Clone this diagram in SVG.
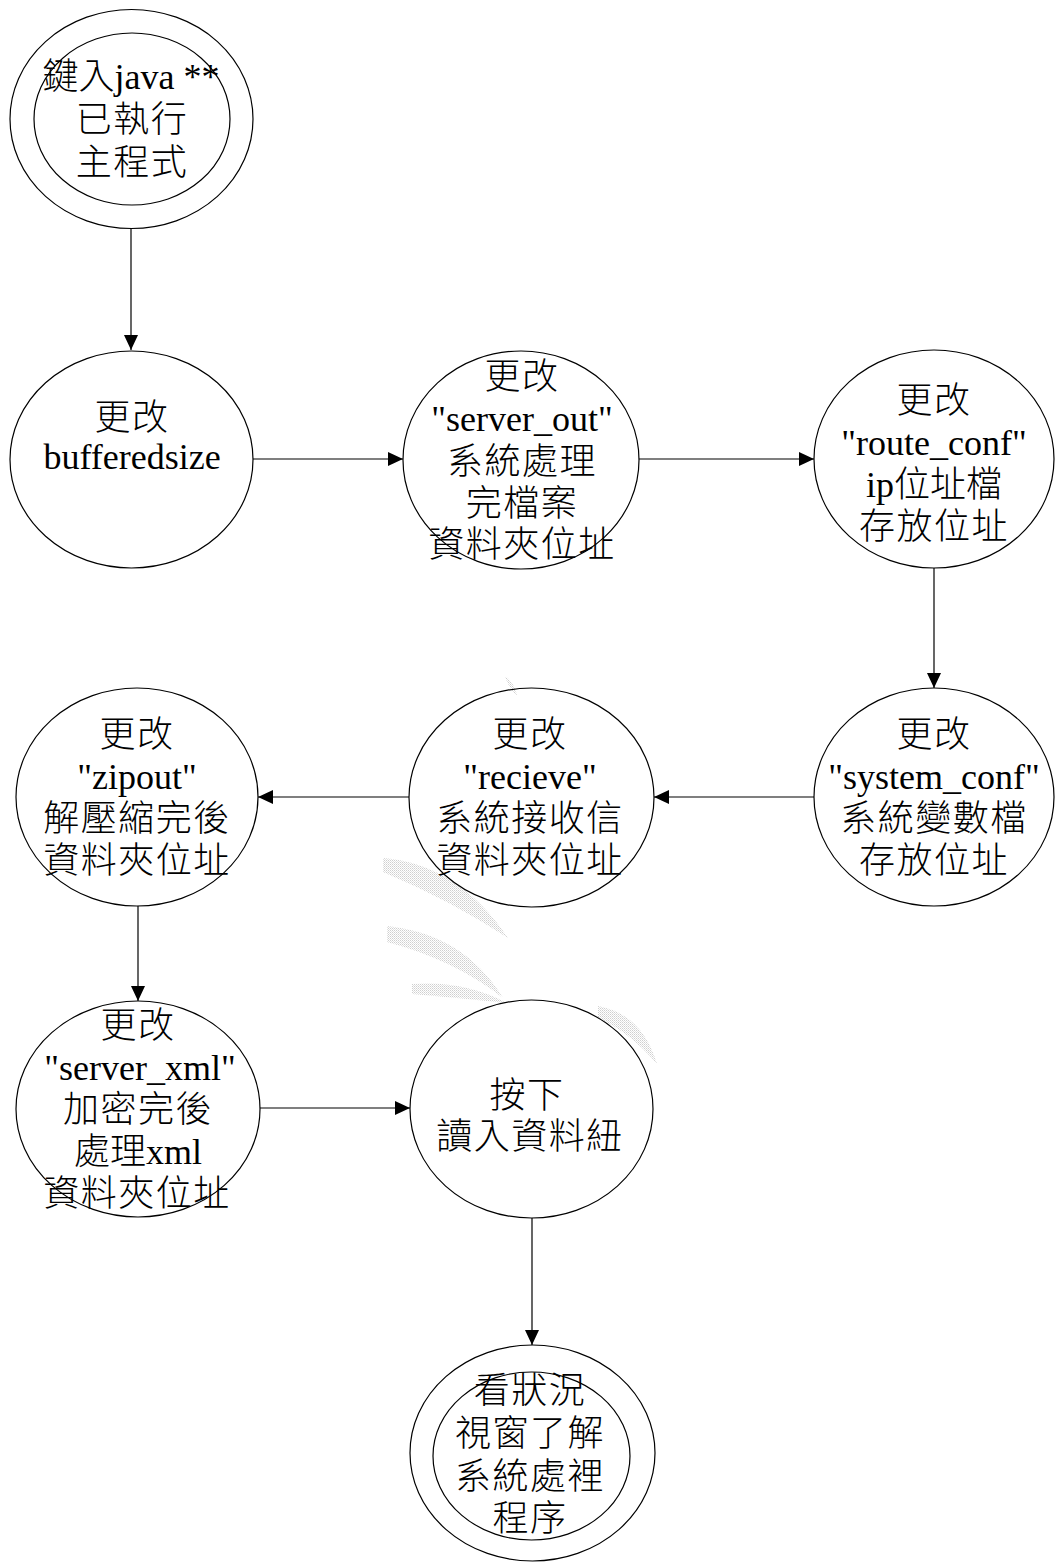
<svg xmlns="http://www.w3.org/2000/svg" width="1055" height="1562" viewBox="0 0 1055 1562">
<style>
  .bg { fill: #ffffff; }
  .node ellipse { fill: none; stroke: #000; stroke-width: 1.2; }
  .node text { font-family: "Liberation Serif", "Noto Sans CJK TC", serif; font-size: 36px; font-weight: 300; fill: #000; text-anchor: middle; }
  .node text.cjk { letter-spacing: 1.5px; }
  .edge { stroke: #000; stroke-width: 1.2; fill: none; marker-end: url(#arrow); }
  .wm { fill: url(#dots); }
</style>
<defs>
  <marker id="arrow" markerUnits="userSpaceOnUse" markerWidth="16" markerHeight="16" refX="15" refY="7" orient="auto">
    <path d="M0,0 L15,7 L0,14 Z" fill="#000"/>
  </marker>
  <pattern id="dots" patternUnits="userSpaceOnUse" width="2" height="2">
    <rect x="0" y="0" width="1" height="1" fill="#cfcfcf"/>
    <rect x="1" y="1" width="1" height="1" fill="#e2e2e2"/>
  </pattern>
</defs>
<rect class="bg" x="0" y="0" width="1055" height="1562"/>

<g id="watermark">
  <path class="wm" d="M383,858 Q458,864 508,938 Q450,900 383,872 Z"/>
  <path class="wm" d="M387,926 Q464,934 503,998 Q455,960 387,942 Z"/>
  <path class="wm" d="M412,984 Q464,980 507,1003 Q460,998 412,994 Z"/>
  <path class="wm" d="M598,1006 Q642,1014 657,1064 Q630,1032 598,1018 Z"/>
  <path class="wm" d="M505,676 Q515,683 517,696 Q509,689 505,676 Z"/>
</g>

<g id="connectors">
  <line class="edge" x1="131" y1="229" x2="131" y2="350"/>
  <line class="edge" x1="253" y1="459" x2="403" y2="459"/>
  <line class="edge" x1="639" y1="459" x2="814" y2="459"/>
  <line class="edge" x1="934" y1="568" x2="934" y2="688"/>
  <line class="edge" x1="814" y1="797" x2="654" y2="797"/>
  <line class="edge" x1="409" y1="797" x2="258" y2="797"/>
  <line class="edge" x1="138" y1="906" x2="138" y2="1001"/>
  <line class="edge" x1="260" y1="1108" x2="410" y2="1108"/>
  <line class="edge" x1="532" y1="1218" x2="532" y2="1345"/>
</g>

<g id="n1" class="node">
  <ellipse cx="131.5" cy="119" rx="121.5" ry="109.5"/>
  <ellipse cx="132" cy="119" rx="98" ry="86"/>
  <text x="131" y="89">鍵入java **</text>
  <text class="cjk" x="132" y="132">已執行</text>
  <text class="cjk" x="132" y="175">主程式</text>
</g>

<g id="n2" class="node">
  <ellipse cx="131.5" cy="459.5" rx="121.5" ry="108.5"/>
  <text class="cjk" x="132" y="430">更改</text>
  <text x="132" y="469">bufferedsize</text>
</g>

<g id="n3" class="node">
  <ellipse cx="521" cy="460" rx="118" ry="109"/>
  <text class="cjk" x="522" y="389">更改</text>
  <text x="522" y="431">"server_out"</text>
  <text class="cjk" x="522" y="474">系統處理</text>
  <text class="cjk" x="522" y="516">完檔案</text>
  <text class="cjk" x="522" y="557">資料夾位址</text>
</g>

<g id="n4" class="node">
  <ellipse cx="934" cy="459" rx="120" ry="109"/>
  <text class="cjk" x="934" y="413">更改</text>
  <text x="934" y="455">"route_conf"</text>
  <text x="934" y="497">ip位址檔</text>
  <text class="cjk" x="934" y="539">存放位址</text>
</g>

<g id="n5" class="node">
  <ellipse cx="934" cy="797" rx="120" ry="109"/>
  <text class="cjk" x="934" y="747">更改</text>
  <text x="934" y="789">"system_conf"</text>
  <text class="cjk" x="934" y="831">系統變數檔</text>
  <text class="cjk" x="934" y="873">存放位址</text>
</g>

<g id="n6" class="node">
  <ellipse cx="531.5" cy="797.5" rx="122.5" ry="109.5"/>
  <text class="cjk" x="530" y="747">更改</text>
  <text x="530" y="789">"recieve"</text>
  <text class="cjk" x="530" y="831">系統接收信</text>
  <text class="cjk" x="530" y="873">資料夾位址</text>
</g>

<g id="n7" class="node">
  <ellipse cx="137" cy="797" rx="121" ry="109"/>
  <text class="cjk" x="137" y="747">更改</text>
  <text x="137" y="789">"zipout"</text>
  <text class="cjk" x="137" y="831">解壓縮完後</text>
  <text class="cjk" x="137" y="873">資料夾位址</text>
</g>

<g id="n8" class="node">
  <ellipse cx="138" cy="1109" rx="122" ry="108"/>
  <text class="cjk" x="138" y="1038">更改</text>
  <text x="140" y="1080">"server_xml"</text>
  <text class="cjk" x="138" y="1122">加密完後</text>
  <text x="138" y="1164">處理xml</text>
  <text class="cjk" x="137" y="1206">資料夾位址</text>
</g>

<g id="n9" class="node">
  <ellipse cx="531.5" cy="1109" rx="121.5" ry="109"/>
  <text class="cjk" x="527" y="1108">按下</text>
  <text class="cjk" x="530" y="1149">讀入資料紐</text>
</g>

<g id="n10" class="node">
  <ellipse cx="532.5" cy="1453" rx="122.5" ry="108"/>
  <ellipse cx="531.5" cy="1456" rx="98.5" ry="84"/>
  <text class="cjk" x="530" y="1403">看狀況</text>
  <text class="cjk" x="530" y="1446">視窗了解</text>
  <text class="cjk" x="530" y="1489">系統處裡</text>
  <text class="cjk" x="530" y="1531">程序</text>
</g>
</svg>
